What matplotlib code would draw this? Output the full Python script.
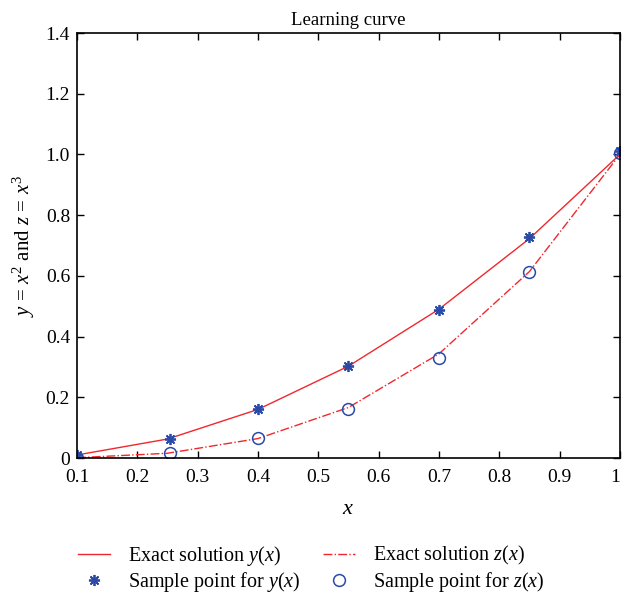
import matplotlib
matplotlib.use("Agg")
import matplotlib.pyplot as plt

# sample grid and values
x_pts = [0.1, 0.25, 0.4, 0.55, 0.7, 0.85, 1.0]
y_exact = [0.01, 0.0625, 0.16, 0.3025, 0.49, 0.7225, 1.0]
z_exact = [0.001, 0.0156, 0.064, 0.1664, 0.343, 0.6141, 1.0]

x_samp = [0.1, 0.254, 0.4, 0.55, 0.7, 0.85, 1.0]
y_samp = [0.01, 0.064, 0.163, 0.304, 0.487, 0.727, 1.01]
z_samp = [0.0, 0.018, 0.066, 0.162, 0.33, 0.613, 1.005]

xticks = [0.1, 0.2, 0.3, 0.4, 0.5, 0.6, 0.7, 0.8, 0.9, 1.0]
xtick_labels = ["0.1", "0.2", "0.3", "0.4", "0.5", "0.6", "0.7", "0.8", "0.9", "1"]
yticks = [0, 0.2, 0.4, 0.6, 0.8, 1.0, 1.2, 1.4]
ytick_labels = ["0", "0.2", "0.4", "0.6", "0.8", "1.0", "1.2", "1.4"]

plt.rcParams["font.family"] = ["Liberation Serif", "DejaVu Serif"]
plt.rcParams["mathtext.fontset"] = "custom"
plt.rcParams["mathtext.rm"] = "Liberation Serif"
plt.rcParams["mathtext.it"] = "Liberation Serif:italic"

red = "#f0282d"
blue = "#2b4aa8"

fig = plt.figure(figsize=(6.23, 5.98), dpi=100)
ax = fig.add_axes([0.1236, 0.2341, 0.8714, 0.7107])

ax.plot(x_pts, y_exact, "-", color=red, lw=1.0, label=r"Exact solution $y(x)$")
ax.plot(x_pts, z_exact, "-.", color=red, lw=1.0, label=r"Exact solution $z(x)$")
ax.plot(x_samp, y_samp, color=blue, ms=8, mew=1.3, ls="none",
        marker=(8, 2, 0), label=r"Sample point for $y(x)$")
ax.plot(x_samp, z_samp, "o", color=blue, mfc="none", ms=8.5, mew=1.1, ls="none",
        label=r"Sample point for $z(x)$")

ax.set_xlim(0.1, 1.0)
ax.set_ylim(0, 1.4)
ax.set_xticks(xticks)
ax.set_xticklabels(xtick_labels)
ax.get_xticklabels()[-1].set_horizontalalignment("right")
ax.set_yticks(yticks)
ax.set_yticklabels(ytick_labels)
ax.tick_params(direction="in", top=True, right=True, labelsize=14, length=5, width=1)
ax.tick_params(axis="x", pad=8)
ax.tick_params(axis="y", pad=5)
for s in ax.spines.values():
    s.set_linewidth(1.2)

ax.set_title("Learning curve", fontsize=13.5, pad=6)
ax.set_xlabel(r"$x$", fontsize=16, labelpad=10)
ax.set_ylabel(r"$y\,=\,x^2$ and $z\,=\,x^3$", fontsize=15, labelpad=6)

handles, labels = ax.get_legend_handles_labels()
order = [0, 2, 1, 3]
fig.legend([handles[i] for i in order], [labels[i] for i in order],
           loc="lower center", bbox_to_anchor=(0.50, -0.024), ncol=2, frameon=False,
           fontsize=14.5, handlelength=1.6, handletextpad=0.9,
           columnspacing=1.1, labelspacing=0.12)

fig.savefig("out.png", dpi=100)
